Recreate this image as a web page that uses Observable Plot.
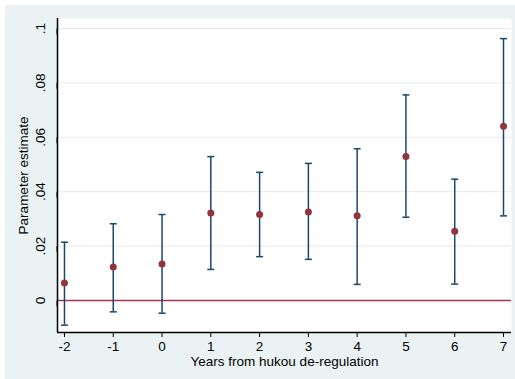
<!DOCTYPE html>
<html><head><meta charset="utf-8">
<script src="https://cdn.jsdelivr.net/npm/d3@7"></script>
<script src="https://cdn.jsdelivr.net/npm/@observablehq/plot@0.6"></script>
<style>
html,body{margin:0;padding:0;background:#fff;}
#chart{position:absolute;left:5px;top:5px;}
</style></head><body><div id="chart"></div>
<script>
const years = [-2,-1,0,1,2,3,4,5,6,7];
const estimates = [0.0064,0.0123,0.0134,0.0322,0.0316,0.0325,0.0311,0.0529,0.0254,0.0641];
const lower = [-0.0091,-0.0042,-0.0047,0.0114,0.0161,0.0151,0.0059,0.0306,0.0060,0.0311];
const upper = [0.0214,0.0282,0.0316,0.0529,0.0471,0.0504,0.0558,0.0756,0.0446,0.0963];
const yTicks = [0,0.02,0.04,0.06,0.08,0.1];
const yTickLabels = ["0",".02",".04",".06",".08",".1"];
const xTicks = years;
const xDomain = [-2.143, 7.164];
const yDomain = [-0.0118, 0.1037];

const data = years.map((t,i)=>({t, est:estimates[i], lo:lower[i], hi:upper[i]}));
const capSymbol = {draw(ctx){ ctx.moveTo(-3.5,0); ctx.lineTo(3.5,0); }};
const navy = "#1a476f", maroon = "#90353b";

const chart = Plot.plot({
  width:510, height:374,
  marginLeft:52, marginRight:4, marginTop:13, marginBottom:47,
  style:{background:"#eaf2f3", fontFamily:"'Liberation Sans', Arial, sans-serif", fontSize:"13.5px", color:"#000"},
  x:{domain:xDomain},
  y:{domain:yDomain},
  marks:[
    Plot.frame({fill:"white", stroke:null}),
    Plot.ruleY(yTicks.slice(1), {stroke:"#e3ecee", strokeWidth:1}),
    Plot.ruleY([0], {stroke:"#a83250", strokeWidth:1.5}),
    Plot.ruleX(data, {x:"t", y1:"lo", y2:"hi", stroke:navy, strokeWidth:1.5}),
    Plot.dot(data, {x:"t", y:"lo", symbol:capSymbol, stroke:navy, strokeWidth:1.5, fill:null}),
    Plot.dot(data, {x:"t", y:"hi", symbol:capSymbol, stroke:navy, strokeWidth:1.5, fill:null}),
    Plot.dot(data, {x:"t", y:"est", r:3.5, fill:maroon, stroke:null}),
    Plot.axisY({ticks:yTicks, tickFormat:d=>yTickLabels[yTicks.indexOf(d)], rotate:-90, textAnchor:"middle",
      tickSize:6, tickPadding:11, label:"Parameter estimate", labelAnchor:"center", labelOffset:39, labelArrow:"none"}),
    Plot.axisX({ticks:xTicks, tickFormat:d=>String(d), tickSize:5, tickPadding:4,
      label:"Years from hukou de-regulation", labelAnchor:"center", labelOffset:33, labelArrow:"none"}),
    Plot.ruleX([xDomain[0]], {stroke:"black", strokeWidth:1.5}),
    Plot.ruleY([yDomain[0]], {stroke:"black", strokeWidth:1.5})
  ]
});
document.getElementById("chart").appendChild(chart);
</script></body></html>
